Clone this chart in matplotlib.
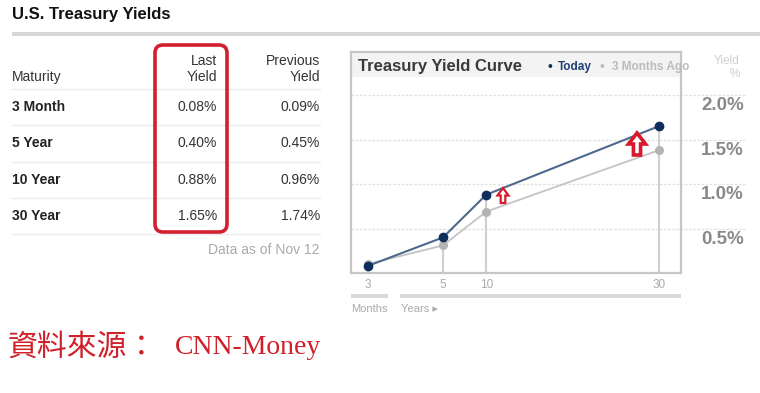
import numpy as np
import matplotlib
matplotlib.use('Agg')
import matplotlib.pyplot as plt
from matplotlib.patches import Rectangle, FancyBboxPatch, Polygon
from matplotlib.transforms import Affine2D, blended_transform_factory

# table data
maturity_labels = ['3 Month', '5 Year', '10 Year', '30 Year']
last_yield = [0.08, 0.40, 0.88, 1.65]
previous_yield = [0.09, 0.45, 0.96, 1.74]

# yield curve data
maturity_years = [0.25, 5, 10, 30]
curve_ticks = ['3', '5', '10', '30']
today = [0.08, 0.40, 0.88, 1.65]
three_months_ago = [0.10, 0.31, 0.69, 1.38]
y_grid = [0.5, 1.0, 1.5, 2.0]

W, H = 760, 393
plt.rcParams['font.family'] = ['Liberation Sans', 'DejaVu Sans']

fig = plt.figure(figsize=(W / 100, H / 100), dpi=100)
# pixel coords, origin top-left
px = Affine2D().scale(1 / 100, -1 / 100).translate(0, H / 100) + fig.dpi_scale_trans


def ptext(x, y, s, **kw):
    fig.text(x, y, s, transform=px, **kw)


def hline(x0, x1, y, color, lw):
    fig.add_artist(plt.Line2D([x0, x1], [y, y], transform=px, color=color, lw=lw, zorder=1))


def up_arrow(cx, top, w, h, lw):
    sw = w * 0.42
    hh = h * 0.5
    pts = [(cx, top), (cx + w / 2, top + hh), (cx + sw / 2, top + hh), (cx + sw / 2, top + h),
           (cx - sw / 2, top + h), (cx - sw / 2, top + hh), (cx - w / 2, top + hh)]
    fig.add_artist(Polygon(pts, closed=True, transform=px, facecolor='white',
                           edgecolor='#d7192b', lw=lw, zorder=10))


# ---- left table ----
ptext(12, 15, 'U.S. Treasury Yields', fontsize=12, fontweight='bold', color='#111', va='center')
fig.add_artist(Rectangle((12, 32), W - 12, 4, transform=px, color='#d6d6d6', lw=0))

ptext(12, 77, 'Maturity', fontsize=10, color='#333', va='center')
ptext(217, 69, 'Last\nYield', fontsize=10, color='#333', va='center', ha='right', linespacing=1.15)
ptext(320, 69, 'Previous\nYield', fontsize=10, color='#333', va='center', ha='right', linespacing=1.15)

row_gap = 36.3
for i in range(5):
    hline(12, 320, 89 + i * row_gap, '#ececec', 1)
for i, name in enumerate(maturity_labels):
    y = 107 + i * row_gap
    ptext(12, y, name, fontsize=10, fontweight='bold', color='#222', va='center')
    ptext(217, y, f'{last_yield[i]:.2f}%', fontsize=10, color='#333', va='center', ha='right')
    ptext(320, y, f'{previous_yield[i]:.2f}%', fontsize=10, color='#333', va='center', ha='right')
ptext(320, 250, 'Data as of Nov 12', fontsize=10, color='#aaa', va='center', ha='right')

fig.add_artist(FancyBboxPatch((155, 45), 72, 187, boxstyle='round,pad=0,rounding_size=8',
                              transform=px, fill=False, edgecolor='#d22030', lw=2.6, zorder=5))

# ---- yield curve chart ----
def axis_pos(yrs):
    # months sit on their own segment left of the years scale
    return yrs if yrs >= 1 else yrs - 3.95


xs = [axis_pos(m) for m in maturity_years]

ax = fig.add_axes([351 / W, 1 - 273 / H, 330 / W, 221 / H])
ax.set_xlim(-5.66, 32.55)
ax.set_ylim(0, 221 / 89)
for s in ax.spines.values():
    s.set_color('#c6c6c6')
    s.set_linewidth(1.6)
ax.add_patch(Rectangle((0, 0.885), 1, 0.115, transform=ax.transAxes, color='#f3f3f3', lw=0, zorder=0))

gtr = blended_transform_factory(ax.transAxes, ax.transData)
for g in y_grid:
    ax.plot([0, 1.195], [g, g], transform=gtr, color='#e2e2e2', lw=1, ls=(0, (2, 1)),
            clip_on=False, zorder=1)
    ax.text(1.19, g - 0.12, f'{g:.1f}%', transform=gtr, ha='right', va='center',
            fontsize=13.5, fontweight='bold', color='#8a8a8a')

for x, a, b in zip(xs, today, three_months_ago):
    ax.plot([x, x], [0, max(a, b)], color='#cfcfcf', lw=1.5, zorder=2)

ax.plot(xs, three_months_ago, color='#c4c4c4', lw=1.3, marker='o', ms=5.5,
        mfc='#b4b4b4', mec='#b4b4b4', zorder=3)
ax.plot(xs, today, color='#4d6a8e', lw=1.5, marker='o', ms=6,
        mfc='#0e2f5e', mec='#0e2f5e', zorder=4)

ax.set_xticks(xs)
ax.set_xticklabels(curve_ticks)
ax.tick_params(axis='x', length=0, pad=4, labelsize=8.5, labelcolor='#aaa')
ax.set_yticks([])

ptext(358, 66, 'Treasury Yield Curve', fontsize=12, fontweight='bold', color='#3a3a3a', va='center')
ptext(547, 67, '•', fontsize=10, color='#0e2f5e', va='center')
ptext(558, 67, 'Today', fontsize=8.5, fontweight='bold', color='#1f3f74', va='center')
ptext(600, 67, '•', fontsize=10, color='#bbb', va='center')
ptext(612, 67, '3 Months Ago', fontsize=8.5, fontweight='bold', color='#bbb', va='center')
ptext(727, 61, 'Yield', fontsize=8.5, color='#cfcfcf', va='center', ha='center')
ptext(735, 74, '%', fontsize=8.5, color='#cfcfcf', va='center', ha='center')

fig.add_artist(Rectangle((351, 294), 37, 4, transform=px, color='#dadada', lw=0))
fig.add_artist(Rectangle((400, 294), 281, 4, transform=px, color='#dadada', lw=0))
ptext(351, 309, 'Months', fontsize=8, color='#aaa', va='center')
ptext(401, 309, 'Years ▸', fontsize=8, color='#aaa', va='center')

up_arrow(503, 188, 11, 15, 1.6)
up_arrow(637, 133, 17, 22, 2.6)

# source note
ptext(8, 347, '資料來源：', fontsize=21.5, color='#d0202a', va='center',
      family=['Noto Sans CJK TC', 'DejaVu Sans'])
ptext(175, 347, 'CNN-Money', fontsize=20, color='#d0202a', va='center',
      family=['Liberation Serif'])

fig.savefig('out.png', dpi=100)
